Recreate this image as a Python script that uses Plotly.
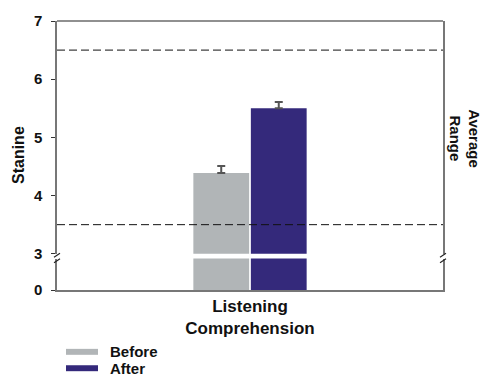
import plotly.graph_objects as go

# ---- data ----
categories = ["Listening<br>Comprehension"]
series_names = ["Before", "After"]
before_vals = [4.39]
after_vals = [5.50]
before_err = [0.12]
after_err = [0.11]
series_colors = ["#b1b5b7", "#34297b"]
average_range = [3.5, 6.5]
upper_ticks = [3, 4, 5, 6, 7]
lower_ticks = [0]

# ---- layout geometry (pixels) ----
W, H = 484, 379
ML, MR, MT, MB = 57, 41, 19, 89
PH = H - MT - MB
PW = W - ML - MR


def ypaper(py):
    """Convert a pixel row of the page into paper y coordinates."""
    return (H - MB - py) / PH


def xpaper(px):
    return (px - ML) / PW


upper_bottom = ypaper(253.5)
lower_top = ypaper(258.3)

FONT = "Liberation Sans, Arial, sans-serif"
AXIS_GREY = "#777777"

fig = go.Figure()

values = [before_vals, after_vals]
errors = [before_err, after_err]

# upper segment (3..7) with error bars, lower segment (0..) below the break
for yax, with_err in (("y2", True), ("y", False)):
    for name, vals, errs, col in zip(series_names, values, errors, series_colors):
        fig.add_trace(go.Bar(
            x=categories, y=vals, name=name, yaxis=yax, xaxis="x",
            marker=dict(color=col, line=dict(width=0)),
            error_y=dict(type="data", array=errs, arrayminus=[0] * len(errs),
                         symmetric=False, visible=with_err,
                         color="#555555", thickness=2, width=4),
            showlegend=False, hoverinfo="skip",
        ))

tickfont = dict(family=FONT, size=15, color="#111111", weight="bold")

fig.update_layout(
    width=W, height=H,
    margin=dict(l=ML, r=MR, t=MT, b=MB, pad=0),
    paper_bgcolor="white", plot_bgcolor="white",
    barmode="group", bargap=0.702, bargroupgap=0.03,
    showlegend=False,
    xaxis=dict(
        domain=[0, 1], anchor="y", showline=True, linecolor=AXIS_GREY,
        linewidth=1.5, ticks="", showgrid=False, zeroline=False,
        tickfont=dict(family=FONT, size=17, color="#111111", weight="bold"),
    ),
    yaxis=dict(
        domain=[0, lower_top], range=[0, 1], tickvals=lower_ticks,
        ticks="outside", ticklen=4, tickcolor="#333333", tickwidth=1,
        showline=True, mirror=True, linecolor=AXIS_GREY, linewidth=1.5,
        showgrid=False, zeroline=False, tickfont=tickfont,
        ticklabelstandoff=6,
    ),
    yaxis2=dict(
        domain=[upper_bottom, 1], range=[3, 7], tickvals=upper_ticks,
        anchor="x", ticks="outside", ticklen=4, tickcolor="#333333",
        tickwidth=1, showline=True, mirror=True, linecolor=AXIS_GREY,
        linewidth=1.5, showgrid=False, zeroline=False, tickfont=tickfont,
        ticklabelstandoff=6,
    ),
)

shapes = []
# top border
shapes.append(dict(type="line", xref="paper", yref="paper", x0=0, x1=1,
                   y0=1, y1=1, line=dict(color="#222222", width=1.2)))
# average range reference lines
for v in average_range:
    shapes.append(dict(type="line", xref="paper", yref="y2", x0=0, x1=1,
                       y0=v, y1=v, layer="above",
                       line=dict(color="#111111", width=1, dash="8px,4px")))
# axis break marks on both sides
for xa in (0, 1):
    for ya, (y0, y1) in ((upper_bottom, (-3.5, 0.5)), (lower_top, (-4.2, -0.2))):
        shapes.append(dict(type="line", xref="paper", yref="paper",
                           xsizemode="pixel", ysizemode="pixel",
                           xanchor=xa, yanchor=ya, x0=-3, x1=3, y0=y0, y1=y1,
                           line=dict(color="#222222", width=1.2)))

# legend swatches
legend_rows = [352.3, 368.8]
for name, col, py in zip(series_names, series_colors, legend_rows):
    shapes.append(dict(type="rect", xref="paper", yref="paper",
                       x0=xpaper(66), x1=xpaper(98),
                       y0=ypaper(py + 3), y1=ypaper(py - 3),
                       fillcolor=col, line=dict(width=0)))

annotations = [
    dict(text="<b>Stanine</b>", xref="paper", yref="paper", x=xpaper(18),
         y=ypaper(154), textangle=-90, showarrow=False, xanchor="center",
         yanchor="middle", font=dict(family=FONT, size=16, color="#111111")),
    dict(text="<b>Average<br>Range</b>", xref="paper", yref="paper",
         x=xpaper(465), y=ypaper(137), textangle=90, showarrow=False,
         xanchor="center", yanchor="middle",
         font=dict(family=FONT, size=15, color="#111111")),
]
for name, py in zip(series_names, legend_rows):
    annotations.append(dict(text=f"<b>{name}</b>", xref="paper", yref="paper",
                            x=xpaper(108), y=ypaper(py), showarrow=False,
                            xanchor="left", yanchor="middle",
                            font=dict(family=FONT, size=15, color="#111111")))

fig.update_layout(shapes=shapes, annotations=annotations)

fig.write_html("out.html")
